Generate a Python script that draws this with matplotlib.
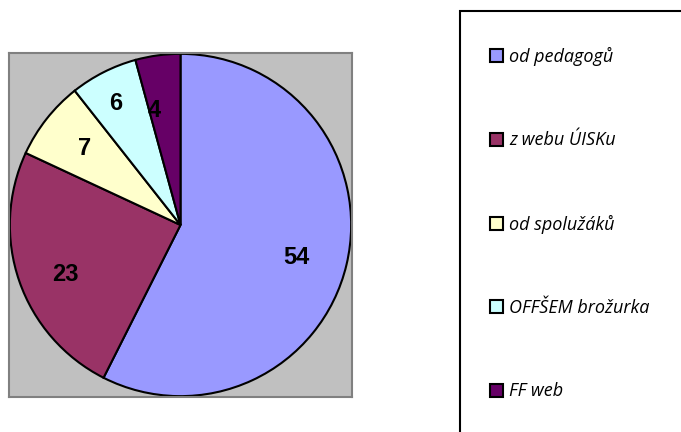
import matplotlib
matplotlib.use("Agg")
import matplotlib.pyplot as plt
from matplotlib.patches import Rectangle
import numpy as np

# data
labels = ["od pedagogů", "z webu ÚISKu", "od spolužáků", "OFFŠEM brožurka", "FF web"]
values = [54, 23, 7, 6, 4]
colors = ["#9999FF", "#993366", "#FFFFCC", "#CCFFFF", "#660066"]
# data label placement: radius fraction and angle offset (deg) from wedge middle
label_dist = [0.70, 0.73, 0.725, 0.82, 0.70]
label_shift = [-1.2, 2.9, -1.2, 1.0, 5.3]

W, H = 681, 432
fig = plt.figure(figsize=(W / 100, H / 100), dpi=100)

# plot area (gray square)
ax = fig.add_axes([9 / W, 1 - 397 / H, 343 / W, 344 / H])
ax.set_facecolor("#C0C0C0")
for s in ax.spines.values():
    s.set_edgecolor("#808080")
    s.set_linewidth(1.5)
ax.set_xticks([])
ax.set_yticks([])

wedges, _ = ax.pie(values, colors=colors, startangle=90, counterclock=False,
                   radius=1.0, wedgeprops=dict(edgecolor="black", linewidth=1.5))
ax.set_xlim(-1.005, 1.005)
ax.set_ylim(-1.005, 1.005)
ax.set_aspect("auto")
ax.set_frame_on(True)

for w, v, d, sh in zip(wedges, values, label_dist, label_shift):
    mid = np.deg2rad((w.theta1 + w.theta2) / 2 + sh)
    ax.text(d * np.cos(mid), d * np.sin(mid), str(v), ha="center", va="center_baseline",
            fontsize=17, fontweight="bold", family="Liberation Sans")

# legend box
fig.patches.append(Rectangle((460 / W, -0.1), 0.5, 1 - 11 / H + 0.1,
                             transform=fig.transFigure, facecolor="white",
                             edgecolor="black", linewidth=1.5))
leg = fig.legend(wedges, labels, loc="upper left", bbox_to_anchor=(490 / W, 1 - 47 / H),
                 frameon=False, borderpad=0, borderaxespad=0,
                 handlelength=0.72, handleheight=0.72, handletextpad=0.33,
                 labelspacing=3.62, prop=dict(family="Open Sans", style="italic", size=13))

fig.savefig("out.png", dpi=100)
